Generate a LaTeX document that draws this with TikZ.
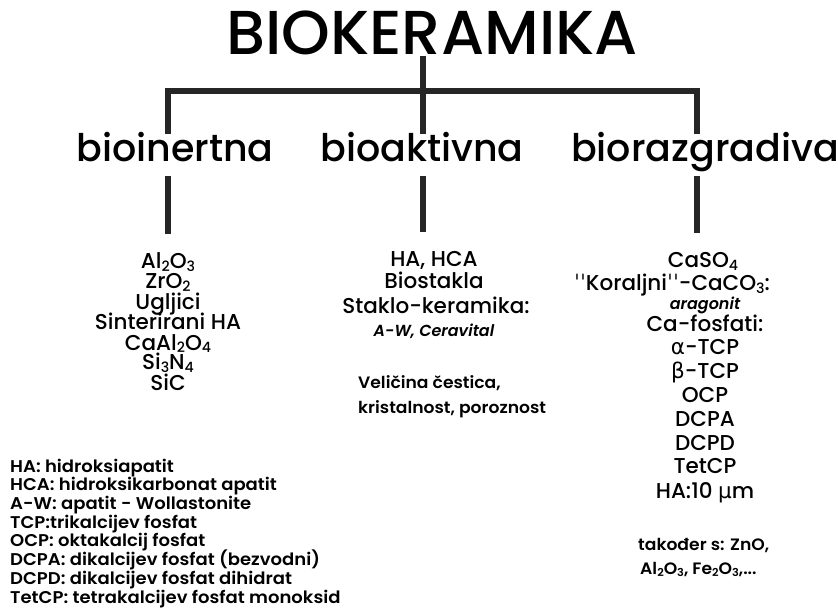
\documentclass[tikz,border=0pt]{standalone}
\usepackage{graphicx}
\usepackage{fontspec}
\setmainfont{Poppins}[UprightFont={Poppins Medium},BoldFont={Poppins SemiBold},ItalicFont={Poppins Medium Italic},BoldItalicFont={Poppins SemiBold Italic}]
\newfontfamily\dvs{DejaVu Sans}
\newcommand\sbs[1]{\raisebox{-0.22ex}{\scalebox{0.66}{#1}}}
\begin{document}
\begin{tikzpicture}[x=1pt,y=-1pt,
  conn/.style={line width=6pt,draw=black!85},
  ttl/.style={font=\fontsize{62}{62}\selectfont,anchor=base,inner sep=0pt},
  cat/.style={font=\fontsize{38}{38}\selectfont,anchor=base,inner sep=0pt,text height=28pt,text depth=14pt},
  lst/.style={font=\fontsize{21.5}{21.5}\selectfont,anchor=base,inner sep=0pt,text height=15pt},
  sml/.style={font=\bfseries\fontsize{16.5}{16.5}\selectfont\addfontfeature{FakeStretch=1.04},anchor=base west,inner sep=0pt},
  smi/.style={font=\bfseries\itshape\fontsize{16}{16}\selectfont,anchor=base,inner sep=0pt},
  leg/.style={font=\bfseries\fontsize{17}{17}\selectfont\addfontfeature{FakeStretch=1.06},anchor=base west,inner sep=0pt}]
\path[use as bounding box,fill=white] (0,0) rectangle (838,612);
% title and categories
\node[ttl] (title) at (432,55) {BIOKERAMIKA};
\node[cat] (c1) at (175,162) {bioinertna};
\node[cat] (c2) at (422,162) {bioaktivna};
\node[cat] (c3) at (705,162) {biorazgradiva};
\coordinate (jL) at (168,91);
\coordinate (jM) at (423,91);
\coordinate (jR) at (697,91);
% left list
\node[lst] (a1) at (168,269) {Al\sbs{2}O\sbs{3}};
\node[lst] (a2) at (168,289) {ZrO\sbs{2}};
\node[lst] (a3) at (168,309) {Ugljici};
\node[lst] (a4) at (168,330) {Sinterirani HA};
\node[lst] (a5) at (168,350) {CaAl\sbs{2}O\sbs{4}};
\node[lst] (a6) at (168,370) {Si\sbs{3}N\sbs{4}};
\node[lst] (a7) at (168,390) {SiC};
% middle list
\node[lst] (b1) at (434,267) {HA, HCA};
\node[lst] (b2) at (434,289) {Biostakla};
\node[lst] (b3) at (436,314) {Staklo-keramika:};
\node[smi] (b4) at (434,337) {A-W, Ceravital};
\node[sml] (b5) at (358,388) {Veličina čestica,};
\node[sml] (b6) at (358,413) {kristalnost, poroznost};
% right list
\node[lst] (r1) at (703,268) {CaSO\sbs{4}};
\node[lst] (r2) at (672,291) {{\dvs ˈˈ}Koraljni{\dvs ˈˈ}-CaCO\sbs{3}:};
\node[smi] (r3) at (705,309) {aragonit};
\node[lst] (r4) at (705,331) {Ca-fosfati:};
\node[lst] (r5) at (705,354) {{\dvs α}-TCP};
\node[lst] (r6) at (705,378) {{\dvs β}-TCP};
\node[lst] (r7) at (705,402) {OCP};
\node[lst] (r8) at (705,426) {DCPA};
\node[lst] (r9) at (705,450) {DCPD};
\node[lst] (r10) at (705,473) {TetCP};
\node[lst] (r11) at (705,498) {HA:10 {\dvs μ}m};
\node[sml] (r12) at (638,550) {također s: ZnO,};
\node[sml] (r13) at (640,574) {Al\sbs{2}O\sbs{3}, Fe\sbs{2}O\sbs{3},...};
% legend
\node[leg] (g1) at (10,472) {HA: hidroksiapatit};
\node[leg] (g2) at (10,490.7) {HCA: hidroksikarbonat apatit};
\node[leg] (g3) at (10,509.4) {A-W: apatit - Wollastonite};
\node[leg] (g4) at (10,528) {TCP:trikalcijev fosfat};
\node[leg] (g5) at (10,546.8) {OCP: oktakalcij fosfat};
\node[leg] (g6) at (10,565.5) {DCPA: dikalcijev fosfat (bezvodni)};
\node[leg] (g7) at (10,584.2) {DCPD: dikalcijev fosfat dihidrat};
\node[leg] (g8) at (10,603) {TetCP: tetrakalcijev fosfat monoksid};
% connectors
\draw[conn] (title.south -| jM) -- (c2.north -| jM);
\draw[conn] (c1.north -| jL) |- (jM) -| (c3.north -| jR);
\draw[conn,shorten >=20pt] (c1.south -| jL) -- (a1.north -| jL);
\draw[conn,shorten >=20pt] (c2.south -| jM) -- (b1.north -| jM);
\draw[conn,shorten >=20pt] (c3.south -| jR) -- (r1.north -| jR);
\end{tikzpicture}
\end{document}
